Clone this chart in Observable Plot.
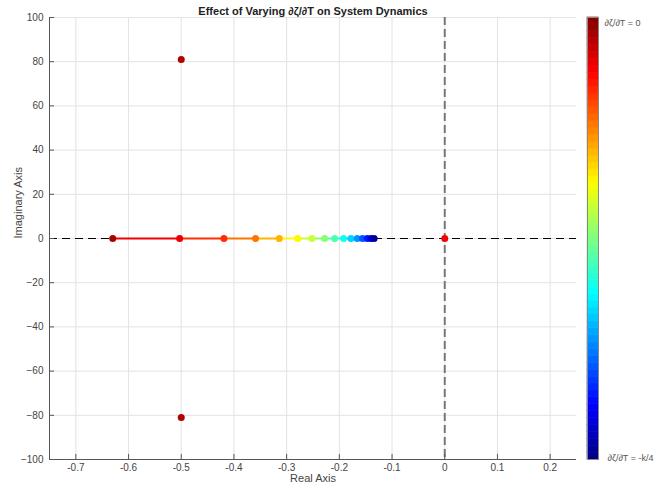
<!DOCTYPE html>
<html><head><meta charset="utf-8">
<script src="https://cdn.jsdelivr.net/npm/d3@7"></script>
<script src="https://cdn.jsdelivr.net/npm/@observablehq/plot@0.6"></script>
<style>
body{margin:0;background:#fff}
#wrap{position:relative;width:671px;height:491px}
#wrap svg{position:absolute;left:0;top:0}
</style>
</head><body><div id="wrap"></div>
<script>
// Real-axis poles, from slowest (dark red) to the dark blue cluster
const realPoles = [-0.630, -0.503, -0.419, -0.359, -0.314, -0.279, -0.252, -0.228, -0.209, -0.192, -0.178, -0.166, -0.156, -0.147, -0.140, -0.134];
const realLevels = [0.96, 0.89, 0.83, 0.76, 0.70, 0.63, 0.57, 0.51, 0.45, 0.39, 0.33, 0.27, 0.21, 0.15, 0.09, 0.03];
// Other poles (complex pair and origin)
const otherRe = [-0.5, -0.5, 0];
const otherIm = [81, -81, 0];
const otherLevels = [0.95, 0.95, 0.88];
const xTicks = [-0.7, -0.6, -0.5, -0.4, -0.3, -0.2, -0.1, 0, 0.1, 0.2];
const yTicks = [-100, -80, -60, -40, -20, 0, 20, 40, 60, 80, 100];
const jetStops = [0, 0.125, 0.375, 0.625, 0.875, 1];
const jetColors = ["#000080", "#0000ff", "#00ffff", "#ffff00", "#ff0000", "#800000"];
const titleText = "Effect of Varying ∂ζ/∂T on System Dynamics";
const xLabel = "Real Axis";
const yLabel = "Imaginary Axis";
const barTop = "∂ζ/∂T = 0";
const barBottom = "∂ζ/∂T = -k/4";

const realData = realPoles.map((x, i) => ({x, y: 0, c: realLevels[i]}));
const segs = realPoles.slice(0, -1).map((x, i) => ({x1: x, x2: realPoles[i + 1], c: realLevels[i + 1]}));
const otherData = otherRe.map((x, i) => ({x, y: otherIm[i], c: otherLevels[i]}));
const font = "'Liberation Sans', Arial, Helvetica, sans-serif";
const axisCol = "#555";
const colorScale = {type: "linear", domain: jetStops, range: jetColors};

const main = Plot.plot({
  width: 671, height: 491,
  marginLeft: 49, marginRight: 95, marginTop: 17, marginBottom: 32,
  style: {fontFamily: font, fontSize: "10px", color: "#444", background: "transparent"},
  x: {domain: [-0.75, 0.25]},
  y: {domain: [-100, 100]},
  color: colorScale,
  marks: [
    Plot.ruleX(xTicks, {stroke: "#e3e3e3", strokeWidth: 1}),
    Plot.ruleY(yTicks, {stroke: "#e3e3e3", strokeWidth: 1}),
    Plot.ruleY([0], {stroke: "#000", strokeWidth: 1, strokeDasharray: "8,5"}),
    Plot.ruleX([0], {stroke: "#777", strokeWidth: 2, strokeDasharray: "8,4"}),
    Plot.link(segs, {x1: "x1", x2: "x2", y1: 0, y2: 0, stroke: "c", strokeWidth: 2}),
    Plot.dot(realData, {x: "x", y: "y", fill: "c", r: 3.5}),
    Plot.dot(otherData, {x: "x", y: "y", fill: "c", r: 3.5}),
    Plot.ruleX([-0.75], {stroke: axisCol}),
    Plot.ruleY([-100], {stroke: axisCol}),
    Plot.ruleX(xTicks, {y1: -100, y2: -97.7, stroke: axisCol}),
    Plot.ruleY(yTicks, {x1: -0.75, x2: -0.7405, stroke: axisCol}),
    Plot.axisX(xTicks, {tickSize: 0, tickPadding: 4, label: null, fill: "#444", tickFormat: d => String(d)}),
    Plot.axisY(yTicks, {tickSize: 0, tickPadding: 6, label: null, fill: "#444"}),
    Plot.text([titleText], {frameAnchor: "top", dy: -10, fontWeight: "bold", fontSize: 11, fill: "#222"}),
    Plot.text([xLabel], {frameAnchor: "bottom", dy: 22, fontSize: 11, fill: "#444"}),
    Plot.text([yLabel], {frameAnchor: "left", dx: -31, rotate: -90, fontSize: 11, fill: "#444"})
  ]
});

const levels = d3.range(64);
const bar = Plot.plot({
  width: 671, height: 491,
  marginLeft: 587, marginRight: 73, marginTop: 17, marginBottom: 32,
  style: {fontFamily: font, fontSize: "9px", color: "#444", background: "transparent"},
  x: {domain: [0, 1], axis: null},
  y: {domain: [0, 64], axis: null},
  color: colorScale,
  marks: [
    Plot.rect(levels, {x1: 0, x2: 1, y1: d => d, y2: d => d + 1, fill: d => (d + 0.5) / 64, stroke: d => (d + 0.5) / 64, strokeWidth: 0.6}),
    Plot.frame({stroke: "#888"}),
    Plot.text([barTop], {frameAnchor: "top-right", dx: 6, dy: 2, textAnchor: "start", fontSize: 9, fill: "#555"}),
    Plot.text([barBottom], {frameAnchor: "bottom-right", dx: 9, dy: 1, textAnchor: "start", fontSize: 9, fill: "#555"})
  ]
});

const wrap = document.getElementById("wrap");
wrap.appendChild(main);
wrap.appendChild(bar);
</script>
</body></html>
